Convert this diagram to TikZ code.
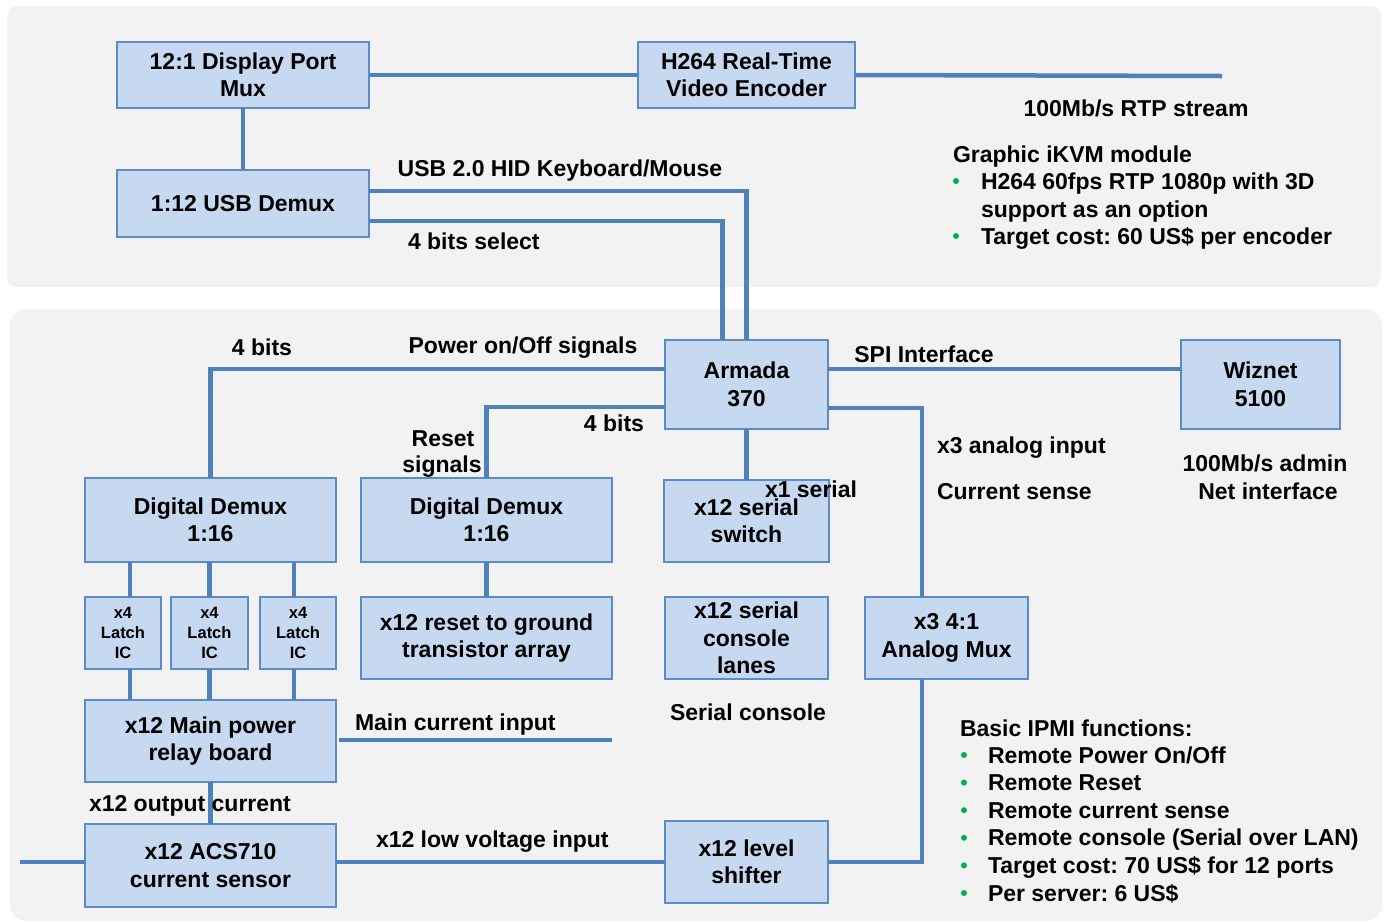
\documentclass[tikz,border=0pt]{standalone}
\usepackage{fontspec}
\setmainfont{Liberation Sans}
\definecolor{wirec}{HTML}{4F81BD}
\definecolor{boxline}{HTML}{5B8BC9}
\definecolor{boxfill}{HTML}{C6D9F1}
\definecolor{panelc}{HTML}{F2F2F2}
\definecolor{bulletc}{HTML}{00B050}
\begin{document}
\frenchspacing
\begin{tikzpicture}[x=1pt,y=-1pt,
  every node/.style={font=\fontsize{23}{27.5}\selectfont\bfseries, inner sep=0pt, outer sep=0pt},
  box/.style={draw=boxline, line width=1.5pt, fill=boxfill, align=center},
  wire/.style={draw=wirec, line width=4.5pt},
  lbl/.style={anchor=base},
  lblw/.style={anchor=base west},
  bul/.style={circle, fill=bulletc, minimum size=6pt, inner sep=0pt},
  smalltext/.style={font=\fontsize{16.5}{20}\selectfont\bfseries}]
\useasboundingbox (0,0) rectangle (1385,922);
% panels
\fill[panelc, rounded corners=10pt] (7,6) rectangle (1381,287);
\fill[panelc, rounded corners=16pt] (10,309) rectangle (1382,921);

% boxes
\node[box, minimum width=252pt, minimum height=66pt] (dpmux) at (243,75) {12:1 Display Port\\Mux};
\node[box, minimum width=217pt, minimum height=66pt] (h264) at (746.5,75) {H264 Real-Time\\Video Encoder};
\node[box, minimum width=252pt, minimum height=67pt] (usb) at (243,203.5) {1:12 USB Demux};
\node[box, minimum width=163pt, minimum height=89pt] (armada) at (746.5,384.5) {Armada\\370};
\node[box, minimum width=159pt, minimum height=89pt] (wiznet) at (1260.5,384.5) {Wiznet\\5100};
\node[box, minimum width=251pt, minimum height=84pt] (dd1) at (210.5,520) {Digital Demux\\1:16};
\node[box, minimum width=251pt, minimum height=84pt] (dd2) at (486.5,520) {Digital Demux\\1:16};
\node[box, minimum width=165pt, minimum height=82pt] (sswitch) at (746.5,521) {x12 serial\\switch};
\node[box, minimum width=76pt, minimum height=72pt, smalltext] (latch1) at (123,633) {x4\\Latch\\IC};
\node[box, minimum width=77pt, minimum height=72pt, smalltext] (latch2) at (209.5,633) {x4\\Latch\\IC};
\node[box, minimum width=76pt, minimum height=72pt, smalltext] (latch3) at (298,633) {x4\\Latch\\IC};
\node[box, minimum width=251pt, minimum height=82pt] (reset) at (486.5,638) {x12 reset to ground\\transistor array};
\node[box, minimum width=163pt, minimum height=82pt] (scons) at (746.5,638) {x12 serial\\console\\lanes};
\node[box, minimum width=163pt, minimum height=82pt] (amux) at (946.5,638) {x3 4:1\\Analog Mux};
\node[box, minimum width=251pt, minimum height=82pt] (relay) at (210.5,741) {x12 Main power\\relay board};
\node[box, minimum width=251pt, minimum height=83pt] (acs) at (210.5,865.5) {x12 ACS710\\current sensor};
\node[box, minimum width=163pt, minimum height=82pt] (lvl) at (746.5,862) {x12 level\\shifter};

% connectors
\coordinate (rtpend) at (1222,76);
\coordinate (mcin) at (612,740);
\coordinate (acsin) at (20,862);
\draw[wire] (dpmux.east) -- (h264.west);
\draw[wire] (h264.east) -- (rtpend);
\draw[wire] (dpmux.south) -- (usb.north);
\draw[wire] ([yshift=12.5pt]usb.east) -| (armada.north);
\draw[wire] ([yshift=-17.5pt]usb.east) -| ([xshift=-24pt]armada.north);
\draw[wire] ([yshift=15.5pt]armada.west) -| (dd1.north);
\draw[wire] ([yshift=-22.5pt]armada.west) -| (dd2.north);
\draw[wire] ([yshift=15.5pt]armada.east) -- ([yshift=15.5pt]wiznet.west);
\draw[wire] ([yshift=-23.5pt]armada.east) -| ([xshift=-24.5pt]amux.north);
\draw[wire] (armada.south) -- (sswitch.north);
\draw[wire] ([xshift=7pt]latch1.north) -- ([xshift=7pt]latch1.north |- dd1.south);
\draw[wire] (latch2.north) -- (latch2.north |- dd1.south);
\draw[wire] ([xshift=-4pt]latch3.north) -- ([xshift=-4pt]latch3.north |- dd1.south);
\draw[wire] ([xshift=7pt]latch1.south) -- ([xshift=7pt]latch1.south |- relay.north);
\draw[wire] (latch2.south) -- (latch2.south |- relay.north);
\draw[wire] ([xshift=-4pt]latch3.south) -- ([xshift=-4pt]latch3.south |- relay.north);
\draw[wire] (dd2.south) -- (reset.north);
\draw[wire] ([xshift=3pt]relay.east |- mcin) -- (mcin);
\draw[wire] (relay.south) -- (acs.north);
\draw[wire] (acsin) -- (acsin -| acs.west);
\draw[wire] (lvl.west -| acs.east) -- (lvl.west);
\draw[wire] ([xshift=-24.5pt]amux.south) |- (lvl.east);

% labels
\node[lbl] (lusb) at (560,176) {USB 2.0 HID Keyboard/Mouse};
\node[lblw] (lsel) at (408,249) {4 bits select};
\node[lbl] (lrtp) at (1136,116) {100Mb/s RTP stream};
\node[lblw] (lgfx) at (953,162) {Graphic iKVM module};
\node[bul] (bg1) at (956,181) {};
\node[lblw] (lg1) at (981,189) {H264 60fps RTP 1080p with 3D};
\node[lblw] (lg2) at (981,217) {support as an option};
\node[bul] (bg2) at (956,236) {};
\node[lblw] (lg3) at (981,244) {Target cost: 60 US\$ per encoder};

\node[lbl] (l4a) at (262,355) {4 bits};
\node[lbl] (lpwr) at (523,353) {Power on/Off signals};
\node[lbl] (l4b) at (614,431) {4 bits};
\node[lbl] (lrst1) at (443,446) {Reset};
\node[lbl] (lrst2) at (442,472) {signals};
\node[lbl] (lspi) at (924,362) {SPI Interface};
\node[lblw] (lana) at (937,453) {x3 analog input};
\node[lblw] (lcur) at (937,499) {Current sense};
\node[lbl] (ladm1) at (1265,471) {100Mb/s admin};
\node[lbl] (ladm2) at (1268,499) {Net interface};
\node[lblw] (lx1) at (765,497) {x1 serial};
\node[lblw] (lmci) at (355,730) {Main current input};
\node[lblw] (lout) at (89,811) {x12 output current};
\node[lblw] (llv) at (376,847) {x12 low voltage input};
\node[lbl] (lsc) at (748,720) {Serial console};

\node[lblw] (lipmi) at (960,736) {Basic IPMI functions:};
\foreach \t [count=\i] in {Remote Power On/Off, Remote Reset, Remote current sense, Remote console (Serial over LAN), Target cost: 70 US\$ for 12 ports, Per server: 6 US\$}{
  \node[bul] (bi\i) at (964,727.4+\i*27.6) {};
  \node[lblw] (li\i) at (988,735.4+\i*27.6) {\t};
}
\end{tikzpicture}
\end{document}
